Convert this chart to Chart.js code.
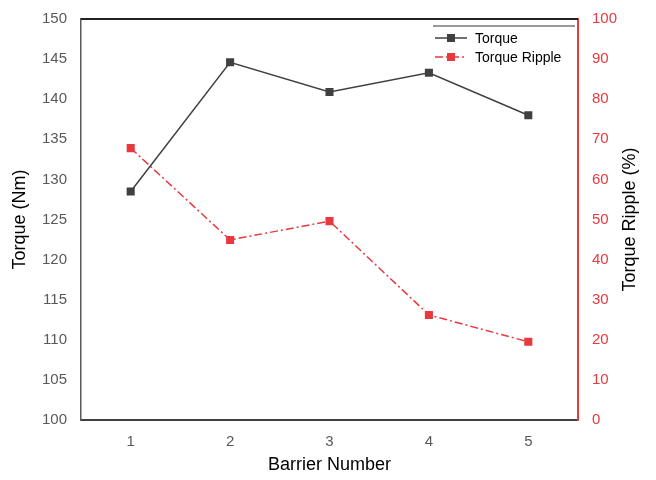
<!DOCTYPE html>
<html>
<head>
<meta charset="utf-8">
<script src="https://cdn.jsdelivr.net/npm/chart.js@4/dist/chart.umd.min.js"></script>
<style>
  html, body { margin: 0; padding: 0; background: #fff; }
  #wrap { width: 656px; height: 480px; }
</style>
</head>
<body>
<div id="wrap"><canvas id="chart" width="656" height="480"></canvas></div>
<script>
  var barriers = ["1", "2", "3", "4", "5"];
  var torque = [128.5, 144.6, 140.9, 143.3, 138.0];
  var ripple = [67.8, 44.9, 49.6, 26.2, 19.5];

  var DARK = "#404040";
  var RED = "#e8393f";
  var FONT = "'Liberation Sans', Arial, sans-serif";

  // plot frame on top, legend box inside the plot, right title reading upward
  var framePlugin = {
    id: "frame",
    afterDraw: function (chart) {
      var a = chart.chartArea, ctx = chart.ctx;
      ctx.save();
      ctx.strokeStyle = "#222";
      ctx.lineWidth = 2;
      ctx.beginPath();
      ctx.moveTo(a.left, a.top);
      ctx.lineTo(a.right, a.top);
      ctx.stroke();

      var x0 = a.right - 145, y0 = a.top + 7;
      ctx.lineWidth = 1;
      ctx.strokeStyle = "#333";
      ctx.beginPath();
      ctx.moveTo(x0, y0);
      ctx.lineTo(a.right - 3, y0);
      ctx.stroke();

      chart.data.datasets.forEach(function (ds, i) {
        var y = y0 + 12 + i * 19;
        ctx.strokeStyle = ds.borderColor;
        ctx.lineWidth = 1.5;
        ctx.setLineDash(ds.borderDash || []);
        ctx.beginPath();
        ctx.moveTo(x0 + 2, y);
        ctx.lineTo(x0 + 34, y);
        ctx.stroke();
        ctx.setLineDash([]);
        ctx.fillStyle = ds.pointBackgroundColor;
        ctx.fillRect(x0 + 14, y - 4, 8, 8);
        ctx.fillStyle = "#000";
        ctx.font = "14px " + FONT;
        ctx.textBaseline = "middle";
        ctx.fillText(ds.label, x0 + 42, y + 1);
      });

      ctx.translate(630, (a.top + a.bottom) / 2);
      ctx.rotate(-Math.PI / 2);
      ctx.fillStyle = "#000";
      ctx.font = "18px " + FONT;
      ctx.textAlign = "center";
      ctx.textBaseline = "middle";
      ctx.fillText("Torque Ripple (%)", 0, 0);
      ctx.restore();
    }
  };

  function fitY(width) {
    return function (s) { s.width = width; s.paddingTop = 0; s.paddingBottom = 0; };
  }

  new Chart(document.getElementById("chart"), {
    type: "line",
    data: {
      labels: barriers,
      datasets: [
        {
          label: "Torque", data: torque, yAxisID: "y",
          borderColor: DARK, borderWidth: 1.5,
          pointStyle: "rect", pointRadius: 5.7,
          pointBackgroundColor: DARK, pointBorderColor: DARK, pointBorderWidth: 0,
          tension: 0
        },
        {
          label: "Torque Ripple", data: ripple, yAxisID: "y1",
          borderColor: RED, borderWidth: 1.5, borderDash: [8, 3, 2, 3],
          pointStyle: "rect", pointRadius: 5.7,
          pointBackgroundColor: RED, pointBorderColor: RED, pointBorderWidth: 0,
          tension: 0
        }
      ]
    },
    options: {
      responsive: false,
      animation: false,
      layout: { padding: { top: 19, left: 0, right: 0, bottom: 0 } },
      plugins: { legend: { display: false }, tooltip: { enabled: false } },
      scales: {
        x: {
          offset: true,
          grid: { display: false, drawTicks: false },
          border: { display: true, color: DARK, width: 2 },
          ticks: { color: "#595959", font: { family: FONT, size: 15 }, padding: 13 },
          title: { display: true, text: "Barrier Number", color: "#000", font: { family: FONT, size: 18 }, padding: { top: 0, bottom: 4 } },
          afterFit: function (s) { s.height = 60; }
        },
        y: {
          position: "left", min: 100, max: 150,
          grid: { display: false, drawTicks: false },
          border: { display: true, color: "#595959", width: 1.5 },
          ticks: { stepSize: 5, color: "#595959", font: { family: FONT, size: 15 }, padding: 14 },
          title: { display: true, text: "Torque (Nm)", color: "#000", font: { family: FONT, size: 18 }, padding: { top: 9, bottom: 0 } },
          afterFit: fitY(81)
        },
        y1: {
          position: "right", min: 0, max: 100,
          grid: { display: false, drawTicks: false },
          border: { display: true, color: RED, width: 2 },
          ticks: { stepSize: 10, color: RED, font: { family: FONT, size: 15 }, padding: 14 },
          title: { display: false },
          afterFit: fitY(78)
        }
      }
    },
    plugins: [framePlugin]
  });
</script>
</body>
</html>
